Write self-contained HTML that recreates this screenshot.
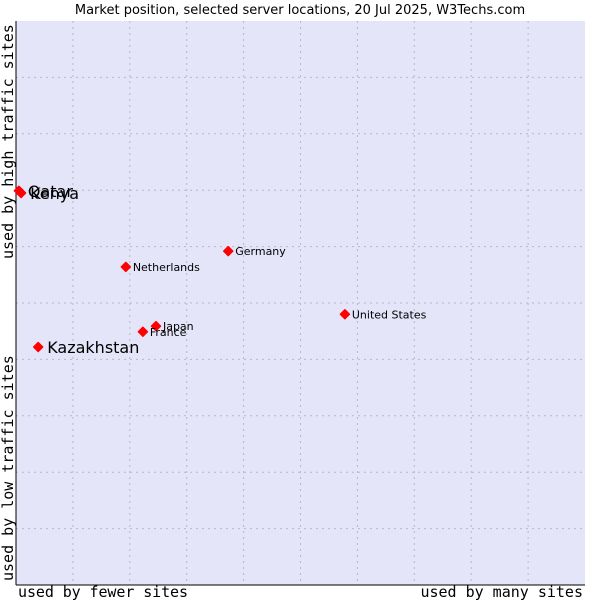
<!DOCTYPE html>
<html><head><meta charset="utf-8"><style>
body{margin:0;background:#fff;width:600px;height:600px;overflow:hidden}
svg text{font-family:"DejaVu Sans","Liberation Sans",sans-serif;fill:#000}
.mono{font-family:"DejaVu Sans Mono","Liberation Mono",monospace}
</style></head><body>
<svg id="c" width="600" height="600">
<text x="300" y="14" text-anchor="middle" font-size="13">Market position, selected server locations, 20 Jul 2025, W3Techs.com</text>
<rect x="16" y="21" width="569" height="564" fill="#e5e5f9"/>
<g id="grid"></g>
<line x1="16" y1="21" x2="16" y2="585" stroke="#000"/>
<line x1="16" y1="585" x2="585" y2="585" stroke="#000"/>
<g id="pts"></g>
<text class="mono" x="18" y="597" font-size="15" textLength="170">used by fewer sites</text>
<text class="mono" x="583" y="597" font-size="15" text-anchor="end">used by many sites</text>
<text class="mono" transform="translate(13,581) rotate(-90)" font-size="15">used by low traffic sites</text>
<text class="mono" transform="translate(13,259) rotate(-90)" font-size="15">used by high traffic sites</text>
</svg>
<script>
const countries=["Qatar","Kenya","Kazakhstan","Netherlands","Germany","United States","Japan","France"];
const xVals=[0.5,0.9,3.9,19.3,37.3,57.8,24.6,22.3];
const yVals=[69.9,69.5,42.2,56.4,59.2,48.0,45.9,44.9];
const bigLabel=[true,true,true,false,false,false,false,false];
const NS="http://www.w3.org/2000/svg";
const X=v=>16+v/100*569, Y=v=>585-v/100*564;
const g=document.getElementById('grid');
for(let i=1;i<10;i++){
 const l=document.createElementNS(NS,'line');
 l.setAttribute('x1',X(i*10));l.setAttribute('x2',X(i*10));l.setAttribute('y1',21);l.setAttribute('y2',585);
 l.setAttribute('stroke','#b8b8c0');l.setAttribute('stroke-dasharray','2,4');
 
 
 g.appendChild(l);
 const m=document.createElementNS(NS,'line');
 m.setAttribute('y1',Y(i*10));m.setAttribute('y2',Y(i*10));m.setAttribute('x1',16);m.setAttribute('x2',585);
 m.setAttribute('stroke','#b8b8c0');m.setAttribute('stroke-dasharray','2,4');
 
 
 g.appendChild(m);
}
const p=document.getElementById('pts');
countries.forEach((c,i)=>{
 const cx=X(xVals[i]),cy=Y(yVals[i]);
 const d=document.createElementNS(NS,'path');
 d.setAttribute('d',`M${cx-4.5} ${cy}L${cx} ${cy-4.5}L${cx+4.5} ${cy}L${cx} ${cy+4.5}Z`);
 d.setAttribute('fill','#f00');d.setAttribute('stroke','#f00');d.setAttribute('stroke-width','1.5');d.setAttribute('stroke-linejoin','round');
 
 
 p.appendChild(d);
 const t=document.createElementNS(NS,'text');
 t.setAttribute('x',cx+(bigLabel[i]?9:7));t.setAttribute('y',cy+(bigLabel[i]?6:4));
 t.setAttribute('font-size',bigLabel[i]?16:11);t.setAttribute('fill','#222');
 t.textContent=c;
 
 
 p.appendChild(t);
});
</script>
</body></html>
